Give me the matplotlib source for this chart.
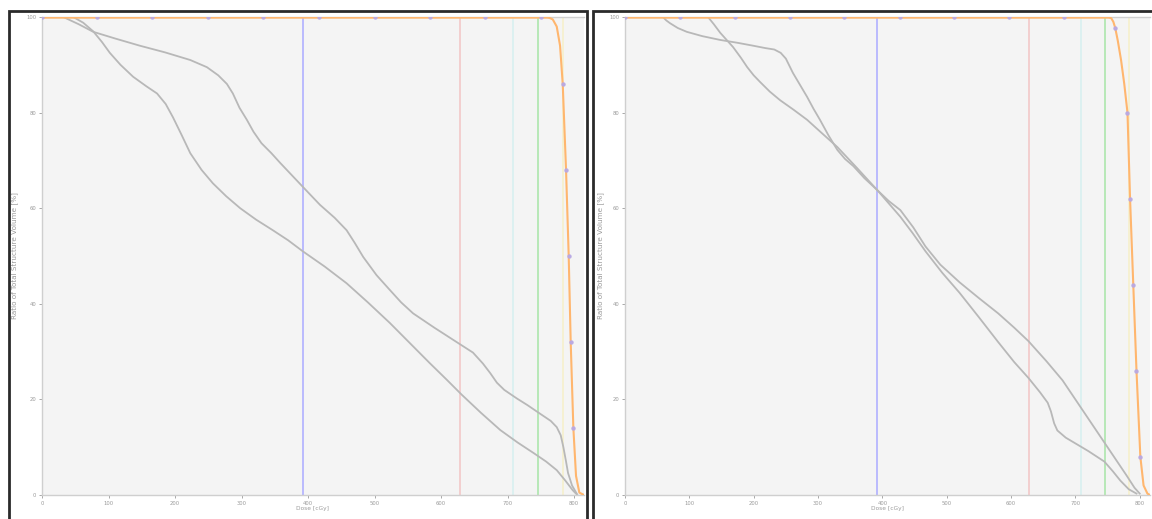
import matplotlib
matplotlib.use("Agg")
import matplotlib.pyplot as plt
from matplotlib.patches import Rectangle

# ---------------- data ----------------
x_ticks = [0, 100, 200, 300, 400, 500, 600, 700, 800]
y_ticks = [0, 20, 40, 60, 80, 100]
x_label = "Dose [cGy]"
y_label = "Ratio of Total Structure Volume [%]"

ref_doses = [392, 628, 708, 746, 784]
ref_colors = ["#b0b0ff", "#f2c8c8", "#d8f0f0", "#acE6ac", "#f6f0cc"]

# left panel
L_a_dose = [0, 32, 55, 77, 110, 147, 185, 223, 248, 265, 278, 287, 297, 308, 318, 330, 345,
            358, 375, 392, 418, 440, 458, 470, 483, 503, 523, 540, 558, 590, 629, 648, 663,
            674, 684, 695, 714, 730, 749, 765, 774, 780, 784, 788, 791, 797, 804]
L_a_vol = [100, 100, 98.5, 96.9, 95.5, 94, 92.6, 91, 89.5, 87.8, 86, 84, 81, 78.5, 76, 73.6, 71.5,
           69.5, 67, 64.5, 60.7, 58, 55.4, 52.8, 49.8, 46, 42.9, 40.3, 38, 35, 31.5, 29.8, 27.5,
           25.5, 23.5, 22, 20.2, 18.8, 17, 15.5, 14.2, 12.5, 10, 7, 4.6, 2, 0.3]
L_b_dose = [0, 47, 62, 77, 90, 102, 118, 137, 157, 173, 186, 197, 210, 223, 240, 257, 277,
            298, 322, 347, 370, 392, 425, 458, 490, 523, 553, 583, 608, 631, 660, 689, 715,
            739, 758, 774, 787, 798, 805]
L_b_vol = [100, 100, 98.8, 97, 94.8, 92.5, 90, 87.5, 85.5, 84, 81.8, 79, 75.3, 71.5, 68, 65.2, 62.5,
           60, 57.6, 55.4, 53.3, 51, 47.8, 44.3, 40.3, 36, 31.8, 27.6, 24.2, 21, 17.2, 13.6, 11,
           8.8, 7, 5.2, 3, 1, 0]
L_o_dose = [0, 760, 768, 774, 779, 783, 788, 792, 795, 799, 803, 808, 815]
L_o_vol = [100, 100, 99.5, 98, 94, 86, 68, 50, 32, 14, 4, 0.5, 0]
L_m_dose = [0, 83, 166, 250, 333, 416, 500, 583, 666, 750, 783, 788, 792, 795, 799]
L_m_vol = [100, 100, 100, 100, 100, 100, 100, 100, 100, 100, 86, 68, 50, 32, 14]

# right panel
R_c_dose = [0, 59, 64, 70, 82, 96, 120, 148, 175, 199, 218, 232, 242, 250, 261, 272, 283,
            293, 303, 316, 330, 342, 355, 372, 392, 410, 428, 448, 467, 490, 520, 550, 580,
            605, 627, 655, 680, 700, 720, 735, 750, 765, 780, 792, 800]
R_c_vol = [100, 100, 99.3, 98.7, 97.7, 96.9, 96, 95.2, 94.6, 94, 93.5, 93.2, 92.5, 91.3, 88.3, 85.8, 83.3,
           80.8, 78.5, 75.3, 72.2, 70.3, 68.8, 66.3, 63.8, 61.5, 59.6, 56, 52, 48.2, 44.5, 41.2, 38,
           35, 32.2, 28, 24, 20, 16, 13, 10, 7, 4, 1.5, 0.3]
R_d_dose = [0, 129, 138, 148, 158, 168, 180, 190, 200, 210, 225, 241, 262, 283, 306, 330,
            360, 392, 410, 428, 447, 467, 493, 520, 550, 580, 605, 627, 645, 657, 662, 667,
            672, 685, 700, 720, 745, 758, 770, 783, 795]
R_d_vol = [100, 100, 98.5, 96.7, 95.2, 93.7, 91.5, 89.5, 87.8, 86.4, 84.4, 82.6, 80.6, 78.5, 75.7, 72.8,
           68.5, 63.8, 61, 58.2, 54.8, 51, 46.5, 42.3, 37.2, 32, 27.8, 24.5, 21.5, 19.3, 17.5, 15,
           13.5, 12, 10.8, 9.2, 7, 5, 3, 1.2, 0.3]
R_o_dose = [0, 752, 756, 759, 762, 766, 771, 776, 781, 785, 790, 795, 801, 806, 812, 816]
R_o_vol = [100, 100, 99.7, 99, 97.7, 95, 91, 86, 80, 62, 44, 26, 8, 2, 0.3, 0]
R_m_dose = [0, 85, 171, 256, 341, 427, 512, 597, 683, 762, 781, 785, 790, 795, 801]
R_m_vol = [100, 100, 100, 100, 100, 100, 100, 100, 100, 97.7, 80, 62, 44, 26, 8]

# ---------------- figure ----------------
W, H = 1152, 519
fig = plt.figure(figsize=(W / 100, H / 100), dpi=100)
fig.patch.set_facecolor("white")

def fx(px):
    return px / W

def fy(py):
    return 1 - py / H

# panel frames
for x0, x1 in [(9, 587), (593, 1160)]:
    fig.add_artist(Rectangle((fx(x0), fy(540)), fx(x1) - fx(x0), fy(11) - fy(540),
                             transform=fig.transFigure, fill=False,
                             edgecolor="#2a2a2a", linewidth=2.0, zorder=0))

GRAY = "#b8b8b8"
ORANGE = "#ffb66e"
MARK = "#b8a8e4"

def make_panel(left_px, right_px, xmax, curves, o_d, o_v, m_d, m_v, ylabelpad):
    ax = fig.add_axes([fx(left_px), fy(495), fx(right_px) - fx(left_px), fy(17) - fy(495)])
    ax.set_facecolor("#f4f4f4")
    ax.set_xlim(0, xmax)
    ax.set_ylim(0, 100)
    for d, c in zip(ref_doses, ref_colors):
        ax.axvline(d, color=c, lw=1.2, zorder=1)
    for dd, vv in curves:
        ax.plot(dd, vv, color=GRAY, lw=1.3, solid_joinstyle="round", zorder=2)
    ax.plot(o_d, o_v, color=ORANGE, lw=1.5, solid_joinstyle="round", zorder=3)
    ax.axhline(100, xmin=0, xmax=o_d[1] / xmax, color=ORANGE, lw=2.8, alpha=0.7, zorder=3)
    ax.plot(m_d, m_v, ls="none", marker="o", ms=2.2, mfc=MARK, mec=MARK, alpha=0.9, zorder=4)
    ax.set_xticks(x_ticks)
    ax.set_yticks(y_ticks)
    ax.tick_params(labelsize=3.8, colors="#9a9a9a", length=2.5, width=0.6, pad=1.5)
    for s in ["left", "bottom", "top"]:
        ax.spines[s].set_color("#cfcfcf")
        ax.spines[s].set_linewidth(1.0)
    ax.spines["right"].set_visible(False)
    ax.set_xlabel(x_label, fontsize=4.2, color="#9a9a9a", labelpad=0.3)
    ax.set_ylabel(y_label, fontsize=5.2, color="#9a9a9a", labelpad=ylabelpad)
    return ax

make_panel(42, 584, 815, [(L_a_dose, L_a_vol), (L_b_dose, L_b_vol)],
           L_o_dose, L_o_vol, L_m_dose, L_m_vol, 6)
make_panel(625, 1150, 816, [(R_c_dose, R_c_vol), (R_d_dose, R_d_vol)],
           R_o_dose, R_o_vol, R_m_dose, R_m_vol, 4)

fig.savefig("out.png", dpi=100)
